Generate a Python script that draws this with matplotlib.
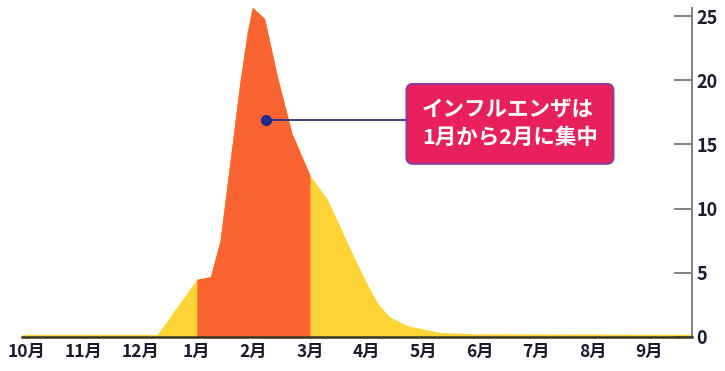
import matplotlib
matplotlib.use("Agg")
import matplotlib.pyplot as plt
import numpy as np

plt.rcParams["font.family"] = ["Noto Sans CJK JP", "DejaVu Sans"]

# month index: 0 = 10月 ... 11 = 9月
months = ["10月", "11月", "12月", "1月", "2月", "3月",
          "4月", "5月", "6月", "7月", "8月", "9月"]

# curve (x in months from 10月, y in value)
x_pts = [-0.09, 2.30, 2.97, 3.00, 3.24, 3.41, 3.59, 3.76, 3.89, 3.98,
         4.20, 4.43, 4.68, 5.00, 5.31, 5.53, 5.77, 6.00, 6.20, 6.40,
         6.71, 7.07, 7.30, 7.90, 11.80]
y_pts = [0.2, 0.2, 4.3, 4.5, 4.7, 7.5, 13.8, 19.8, 23.7, 25.7,
         24.8, 20.2, 15.9, 12.6, 10.7, 8.6, 6.3, 4.2, 2.6, 1.6,
         0.9, 0.55, 0.35, 0.25, 0.2]

peak_start, peak_end = 3.0, 5.0   # 1月 .. 3月
yticks = [0, 5, 10, 15, 20, 25]
note = "インフルエンザは\n1月から2月に集中"
dot_x, dot_y = 4.22, 16.9

x = np.array(x_pts)
y = np.array(y_pts)

fig = plt.figure(figsize=(7.25, 3.71), dpi=100)
ax = fig.add_axes([22 / 725, 34 / 371, 670 / 725, 337 / 371])

ax.fill_between(x, 0, y, color="#FDD335", linewidth=0)
mask = (x >= peak_start) & (x <= peak_end)
ax.fill_between(x[mask], 0, y[mask], color="#FA6432", linewidth=0)

ax.set_xlim(-0.088, 11.75)
ax.set_ylim(0, 26.25)

# axes styling
ax.yaxis.tick_right()
ax.set_yticks(yticks)
ax.set_yticklabels([str(v) for v in yticks], fontsize=13, fontweight="bold",
                   color="#1b1b2e")
ax.tick_params(axis="y", direction="in", length=13, width=1.3,
               color="#777777", pad=3)
ax.set_xticks(range(len(months)))
ax.set_xticklabels(months, fontsize=12.5, fontweight="bold", color="#1b1b2e")
ax.tick_params(axis="x", length=0, pad=4)

ax.spines["top"].set_visible(False)
ax.spines["left"].set_visible(False)
ax.spines["right"].set_color("#777777")
ax.spines["right"].set_linewidth(1.3)
ax.spines["right"].set_bounds(0, 25.6)
ax.spines["bottom"].set_color("#3a3520")
ax.spines["bottom"].set_linewidth(1.8)

# annotation
ax.plot([dot_x, 6.72], [dot_y, dot_y], color="#2a2f7a", linewidth=1.3, zorder=4)
ax.plot(dot_x, dot_y, "o", color="#1f2a8a", markersize=7, zorder=5)
ax.text(6.98, 16.6, note, ha="left", va="center", fontsize=15.5,
        fontweight="bold", color="white", linespacing=1.4, zorder=6,
        bbox=dict(boxstyle="round,pad=0.72,rounding_size=0.3",
                  facecolor="#E8205E", edgecolor="#8E3A9D", linewidth=1.5))

fig.savefig("out.png", dpi=100)
